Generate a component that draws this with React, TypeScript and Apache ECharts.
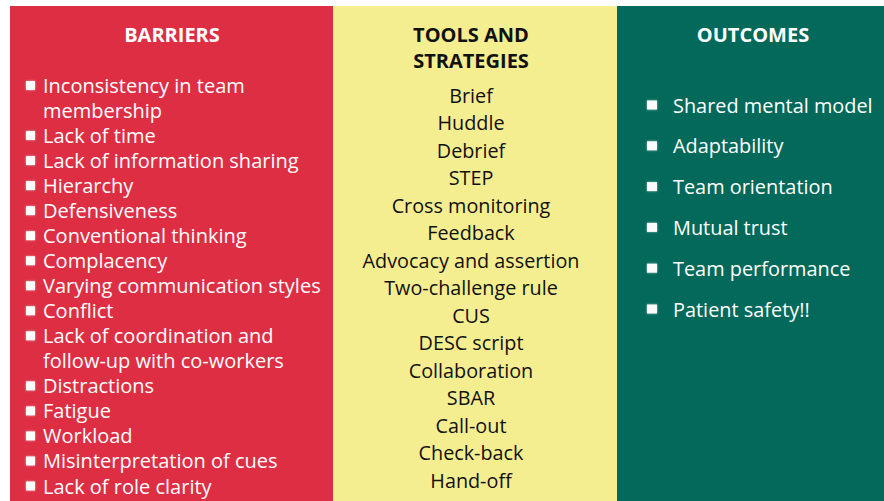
import React, { useEffect, useRef } from "react";
import * as echarts from "echarts";

const headers = ["BARRIERS", "TOOLS AND\nSTRATEGIES", "OUTCOMES"];
const barriers = [
  "Inconsistency in team\nmembership",
  "Lack of time",
  "Lack of information sharing",
  "Hierarchy",
  "Defensiveness",
  "Conventional thinking",
  "Complacency",
  "Varying communication styles",
  "Conflict",
  "Lack of coordination and\nfollow-up with co-workers",
  "Distractions",
  "Fatigue",
  "Workload",
  "Misinterpretation of cues",
  "Lack of role clarity",
];
const tools = [
  "Brief",
  "Huddle",
  "Debrief",
  "STEP",
  "Cross monitoring",
  "Feedback",
  "Advocacy and assertion",
  "Two-challenge rule",
  "CUS",
  "DESC script",
  "Collaboration",
  "SBAR",
  "Call-out",
  "Check-back",
  "Hand-off",
];
const outcomes = [
  "Shared mental model",
  "Adaptability",
  "Team orientation",
  "Mutual trust",
  "Team performance",
  "Patient safety!!",
];

const RED = "#dd2e44";
const YELLOW = "#f5ee91";
const GREEN = "#03695a";
const FONT = "'Open Sans', 'Noto Sans', sans-serif";

export default function App() {
  const ref = useRef<HTMLDivElement>(null);
  useEffect(() => {
    if (!ref.current) return;
    const chart = echarts.init(ref.current, null, { renderer: "svg" });
    const els: any[] = [];
    const top = 6;
    const bottom = 501;
    const cols = [
      { x0: 10, x1: 333, color: RED },
      { x0: 333, x1: 617, color: YELLOW },
      { x0: 617, x1: 884, color: GREEN },
    ];
    cols.forEach((c) => {
      els.push({
        type: "rect",
        shape: { x: c.x0, y: top, width: c.x1 - c.x0, height: bottom - top },
        style: { fill: c.color },
        silent: true,
      });
    });
    const headerStyle = (fill: string) => ({
      fill,
      fontSize: 20,
      fontWeight: "bold",
      fontFamily: FONT,
      align: "center",
      verticalAlign: "middle",
      lineHeight: 26,
    });
    els.push({ type: "text", x: 172, y: 34, style: { ...headerStyle("#fff"), text: headers[0] } });
    els.push({ type: "text", x: 471, y: 47, style: { ...headerStyle("#111"), text: headers[1] } });
    els.push({ type: "text", x: 753, y: 34, style: { ...headerStyle("#fff"), text: headers[2] } });

    // barriers: line positions
    const bStep = (486 - 110.5) / 15;
    const lineY = (k: number) => (k === 0 ? 85.5 : 110.5 + (k - 1) * bStep);
    let line = 0;
    barriers.forEach((t) => {
      const parts = t.split("\n");
      parts.forEach((p, j) => {
        const y = lineY(line + j);
        if (j === 0) {
          els.push({
            type: "rect",
            shape: { x: 26, y: y - 4.5, width: 9, height: 9 },
            style: { fill: "#fbfbfb", shadowBlur: 2, shadowColor: "rgba(255,255,255,0.6)" },
          });
        }
        els.push({
          type: "text",
          x: 43,
          y,
          style: {
            text: p,
            fill: "#fff",
            fontSize: 20,
            lineHeight: 21,
            fontFamily: FONT,
            align: "left",
            verticalAlign: "middle",
          },
        });
      });
      line += parts.length;
    });

    // tools
    const tStep = 27.5;
    tools.forEach((t, i) => {
      els.push({
        type: "text",
        x: 471,
        y: 95 + i * tStep,
        style: {
          text: t,
          fill: "#111",
          fontSize: 19.8,
          lineHeight: 23,
          fontFamily: FONT,
          align: "center",
          verticalAlign: "middle",
        },
      });
    });

    // outcomes
    const oStep = 40.8;
    outcomes.forEach((t, i) => {
      const y = 105 + i * oStep;
      els.push({
        type: "rect",
        shape: { x: 647, y: y - 4.5, width: 10, height: 9 },
        style: { fill: "#fbfbfb", shadowBlur: 2, shadowColor: "rgba(255,255,255,0.6)" },
      });
      els.push({
        type: "text",
        x: 673,
        y,
        style: {
          text: t,
          fill: "#fff",
          fontSize: 19.9,
          fontFamily: FONT,
          align: "left",
          verticalAlign: "middle",
        },
      });
    });

    chart.setOption({
      animation: false,
      backgroundColor: "#ffffff",
      graphic: { elements: els },
    });
    return () => chart.dispose();
  }, []);
  return (
    <div
      ref={ref}
      style={{ position: "fixed", left: 0, top: 0, width: 884, height: 501 }}
    />
  );
}
